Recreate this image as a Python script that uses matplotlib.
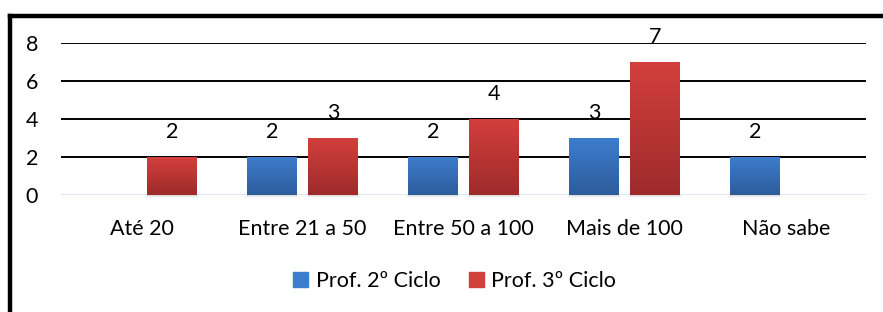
import numpy as np
import matplotlib.pyplot as plt
from matplotlib.lines import Line2D
from matplotlib.patches import Rectangle
from matplotlib.colors import LinearSegmentedColormap

categories = ['Até 20', 'Entre 21 a 50', 'Entre 50 a 100', 'Mais de 100', 'Não sabe']
prof2 = [0, 2, 2, 3, 2]
prof3 = [2, 3, 4, 7, 0]
series_names = ['Prof. 2º Ciclo', 'Prof. 3º Ciclo']
yticks = [0, 2, 4, 6, 8]

plt.rcParams['font.family'] = ['Lato', 'DejaVu Sans']

blue_top, blue_bot = '#3d7ccc', '#2d5d9c'
red_top, red_bot = '#d23f3c', '#9e2b2b'
fs = 15.5

fig = plt.figure(figsize=(8.83, 3.12), dpi=100)
ax = fig.add_axes([0.069, 0.375, 0.912, 0.487])

x = np.arange(len(categories))
w = 0.31
off = 0.19


def grad_bars(xs, vals, top, bot, zorder=3):
    cmap = LinearSegmentedColormap.from_list('g', [bot, top])
    grad = np.linspace(0, 1, 64).reshape(-1, 1)
    bars = ax.bar(xs, vals, w, color=top, zorder=zorder, linewidth=0)
    for b, v in zip(bars, vals):
        if v <= 0:
            continue
        x0 = b.get_x()
        # soft shadow under the bar
        for k, a in enumerate([0.18, 0.10, 0.05]):
            ax.add_patch(Rectangle((x0 - 0.005 * k, -0.05 - 0.05 * k), w + 0.01 * k, 0.1,
                                   color='#808080', alpha=a, lw=0, zorder=zorder - 1,
                                   clip_on=False))
        im = ax.imshow(grad, cmap=cmap, aspect='auto', origin='lower',
                       extent=(x0, x0 + w, 0, v), zorder=zorder + 0.1)
        im.set_clip_path(b)
        ax.text(b.get_x() + w / 2, v + 1.3, str(v), ha='center', va='center',
                fontsize=fs, color='black', zorder=6)
    return bars


b1 = grad_bars(x - off, prof2, blue_top, blue_bot)
b2 = grad_bars(x + off, prof3, red_top, red_bot)

ax.set_xlim(-0.5, len(categories) - 0.5)
ax.set_ylim(0, 8)
ax.set_yticks(yticks)
ax.set_xticks(x)
ax.set_xticklabels(categories, fontsize=fs)
ax.tick_params(axis='both', length=0, labelsize=fs)
ax.tick_params(axis='y', pad=16.5)
ax.tick_params(axis='x', pad=17)
for s in ax.spines.values():
    s.set_visible(False)
for yv in yticks[1:]:
    ax.axhline(yv, color='black', lw=1.4, zorder=2)
ax.axhline(0, color='#d9e3f0', lw=1.2, zorder=2)

handles = [Rectangle((0, 0), 1, 1, color=blue_top), Rectangle((0, 0), 1, 1, color=red_top)]
fig.legend(handles, series_names, loc='center', bbox_to_anchor=(0.515, 0.1), ncol=2,
           frameon=False, fontsize=fs, handlelength=0.7, handleheight=0.7,
           handletextpad=0.35, columnspacing=1.3)

# outer frame (top and left edges visible)
fig.add_artist(Line2D([10 / 883, 1], [1 - 16 / 312] * 2, color='black', lw=3.2,
                      transform=fig.transFigure))
fig.add_artist(Line2D([10 / 883] * 2, [0, 1 - 16 / 312], color='black', lw=3.2,
                      transform=fig.transFigure))

fig.savefig('out.png', dpi=100)
